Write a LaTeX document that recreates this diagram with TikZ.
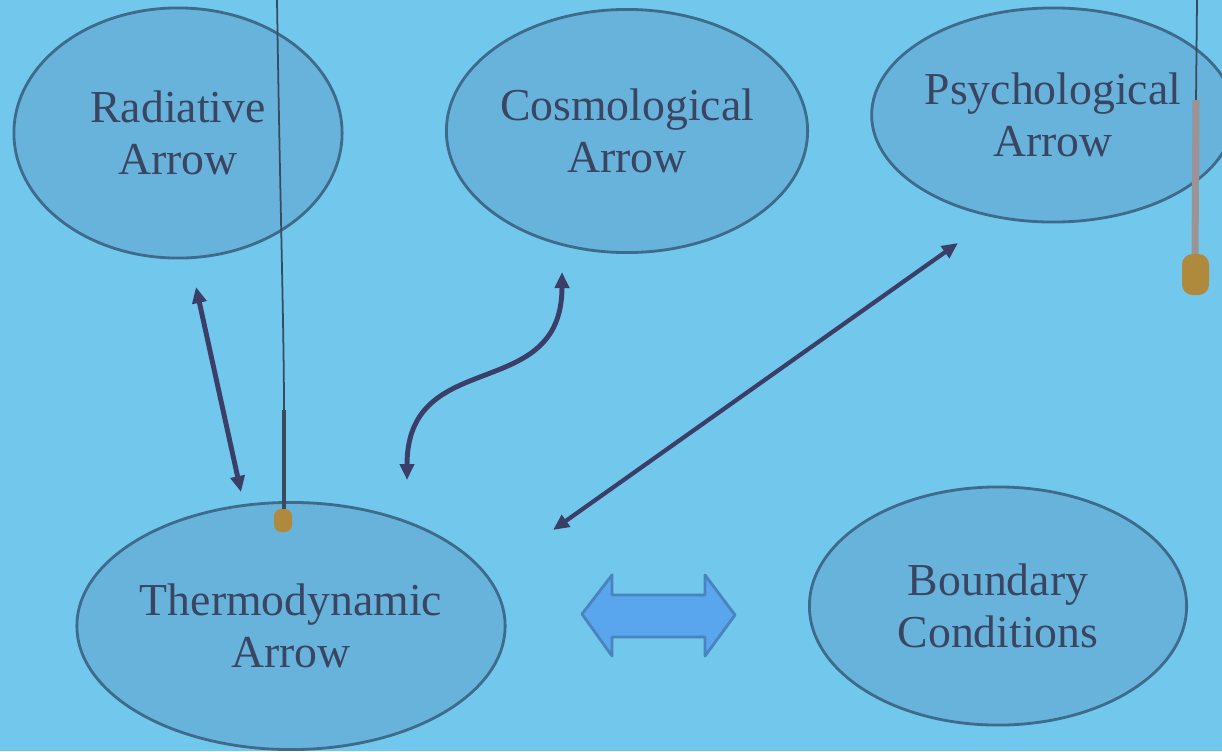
\documentclass[tikz,border=0pt]{standalone}
\usepackage{fontspec}
\setmainfont{Liberation Serif}
\usetikzlibrary{arrows.meta,shapes.geometric}
\definecolor{bg}{HTML}{72C7EC}
\definecolor{ellfill}{HTML}{68B3DC}
\definecolor{elldraw}{HTML}{3E6A8C}
\definecolor{txt}{HTML}{3A4661}
\definecolor{arr}{HTML}{3B3F68}
\definecolor{blockfill}{HTML}{5AA6EE}
\definecolor{blockdraw}{HTML}{4A84BE}
\definecolor{cord}{HTML}{3A4A5E}
\definecolor{tube}{HTML}{9C9494}
\definecolor{plug}{HTML}{B08A3C}
\tikzset{
  oval/.style={ellipse, draw=elldraw, line width=0.8pt, fill=ellfill, inner sep=0pt,
    text=txt, align=center, font=\fontsize{13}{14.8}\selectfont},
  link/.style={draw=arr, line width=1.4pt, {Triangle[length=1.6mm,width=1.4mm]}-{Triangle[length=1.6mm,width=1.4mm]}},
}
\begin{document}
\begin{tikzpicture}[x=0.01cm,y=-0.01cm]
\fill[bg] (0,0) rectangle (1222,751);
\useasboundingbox (0,0) rectangle (1222,751);

\node[oval, minimum width=3.28cm, minimum height=2.50cm] (rad) at (178,133) {Radiative\\Arrow};
\node[oval, minimum width=3.61cm, minimum height=2.43cm] (cos) at (627,131) {Cosmological\\Arrow};
\node[oval, minimum width=3.40cm, minimum height=2.14cm] (psy) at (1053,115) {Psychological\\Arrow};
\node[oval, minimum width=4.28cm, minimum height=2.47cm] (thm) at (291,626) {Thermodynamic\\Arrow};
\node[oval, minimum width=3.77cm, minimum height=2.38cm] (bnd) at (998,606) {Boundary\\Conditions};

% connector end points
\coordinate (r1) at (196,287);
\coordinate (r2) at (241,492);
\coordinate (c1) at (562,272);
\coordinate (c2) at (407,480);
\coordinate (p1) at (958,243);
\coordinate (p2) at (553,530);

\draw[link] (r1) -- (r2);
\draw[link] (c1) .. controls (562,405) and (407,345) .. (c2);
\draw[link, line width=1.2pt] (p1) -- (p2);

% block double arrow
\filldraw[fill=blockfill, draw=blockdraw, line width=0.8pt, line join=round]
  (582,614) -- (612,575) -- (612,595) -- (705,595) -- (705,575) -- (735,615)
  -- (705,656) -- (705,637) -- (612,637) -- (612,656) -- cycle;

% microphone cords (photo)
\draw[cord, line width=0.5pt] (277,0) .. controls (280,200) and (284,330) .. (284,410);
\draw[cord, line width=1.3pt] (284,410) -- (284,510);
\fill[plug, rounded corners=2pt] (274,509) rectangle (292,532);
\draw[cord, line width=0.5pt] (1197,0) -- (1196,100);
\draw[tube, line width=2pt] (1196,100) -- (1195,255);
\fill[plug, rounded corners=3pt] (1182,254) rectangle (1209,295);
\end{tikzpicture}
\end{document}
